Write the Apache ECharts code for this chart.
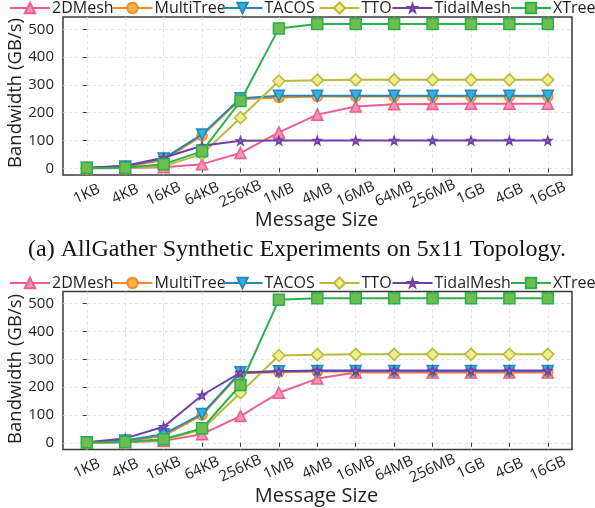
<!DOCTYPE html>
<html><head><meta charset="utf-8">
<script src="https://cdn.jsdelivr.net/npm/echarts@6/dist/echarts.min.js"></script>
<style>html,body{margin:0;padding:0;background:#fff}#c{width:595px;height:508px}</style>
</head><body><div id="c"></div>
<script>
// ---- data ----
const sizes = ['1KB','4KB','16KB','64KB','256KB','1MB','4MB','16MB','64MB','256MB','1GB','4GB','16GB'];
const yTicks = [0, 100, 200, 300, 400, 500];
const seriesNames = ['2DMesh','MultiTree','TACOS','TTO','TidalMesh','XTree'];

// (a) AllGather on 5x11
const a2DMesh    = [0.5, 1, 4, 15, 55, 129, 193, 222, 230, 231, 232, 232, 232];
const aMultiTree = [0.5, 5, 30, 117, 248, 255, 258, 258, 258, 258, 258, 258, 258];
const aTACOS     = [2, 7, 35, 122, 252, 261, 261, 261, 261, 261, 261, 261, 261];
const aTTO       = [0, 1, 8, 51, 182, 314, 317, 318, 318, 318, 318, 318, 318];
const aTidalMesh = [2, 9, 38, 81, 99, 100, 100, 100, 100, 100, 100, 100, 100];
const aXTree     = [1, 2, 15, 61, 242, 503, 519, 519, 519, 519, 519, 519, 519];

// second chart
const b2DMesh    = [0.5, 2, 7, 31, 96, 180, 231, 253, 253, 253, 253, 253, 253];
const bMultiTree = [0.5, 5, 25, 100, 250, 254, 256, 256, 256, 256, 256, 256, 256];
const bTACOS     = [2, 8, 31, 104, 254, 257, 258, 258, 258, 258, 258, 258, 258];
const bTTO       = [0, 2, 10, 48, 180, 314, 317, 318, 318, 318, 318, 318, 318];
const bTidalMesh = [2, 16, 58, 171, 252, 257, 260, 260, 260, 260, 260, 260, 260];
const bXTree     = [1, 3, 13, 52, 208, 514, 520, 520, 520, 520, 520, 520, 520];

const captionA = '(a) AllGather Synthetic Experiments on 5x11 Topology.';
const xTitle = 'Message Size';
const yTitle = 'Bandwidth (GB/s)';

// ---- styles ----
const STAR = 'path://M0,-10L2.35,-3.24L9.51,-3.09L3.8,1.24L5.88,8.09L0,4L-5.88,8.09L-3.8,1.24L-9.51,-3.09L-2.35,-3.24Z';
const sty = {
  '2DMesh':    {line:'#ee5c8d', fill:'#f592b5', symbol:'triangle', size:11, rot:0, lh:13},
  'MultiTree': {line:'#f28a26', fill:'#fbb347', symbol:'circle', size:10, rot:0, lh:13},
  'TACOS':     {line:'#2a87b5', fill:'#2ab3e4', symbol:'triangle', size:11, rot:180, lh:13},
  'TTO':       {line:'#b9b93a', fill:'#efee8c', symbol:'diamond', size:12, rot:0, lh:14},
  'TidalMesh': {line:'#6d3fa8', fill:'#9163cb', symbol:STAR, size:8, rot:0, lh:10},
  'XTree':     {line:'#2bb04b', fill:'#6dbd4f', symbol:'rect', size:11, rot:0, lh:13}
};
const FONT = 'Open Sans';
const TXT = '#1e1e1e';
const FRAME = '#3a3a3a';

const chartData = [
  [a2DMesh, aMultiTree, aTACOS, aTTO, aTidalMesh, aXTree],
  [b2DMesh, bMultiTree, bTACOS, bTTO, bTidalMesh, bXTree]
];
const gridTops = [17, 291.5];
const legendCenters = [8, 283];

const grids = [], xAxes = [], yAxes = [], series = [], legends = [];
const legendLefts = [9, 111.5, 221.5, 318.5, 391.5, 510];

gridTops.forEach((top, gi) => {
  grids.push({left:63, top:top, width:509, height:158, show:true, borderColor:FRAME, borderWidth:1.5,
              backgroundColor:'transparent', outerBoundsMode:'none', containLabel:false});
  xAxes.push({
    type:'value', gridIndex:gi, min:-0.62, max:12.63, minInterval:1, maxInterval:1,
    axisLine:{show:false},
    axisTick:{show:true, length:4, lineStyle:{color:FRAME, width:1}, customValues: sizes.map((s,i)=>i)},
    axisLabel:{customValues: sizes.map((s,i)=>i), rotate:25, align:'center', verticalAlign:'middle', margin:19,
      fontFamily:FONT, fontSize:15, color:TXT,
      formatter: v => (Number.isInteger(v) && sizes[v] !== undefined) ? sizes[v] : ''},
    splitLine:{show:true, lineStyle:{color:'#dcdcdc', type:[3,3], width:0.8}}
  });
  yAxes.push({
    type:'value', gridIndex:gi, min:-24, max:544, minInterval:100, maxInterval:100,
    axisLine:{show:false},
    axisTick:{show:true, length:4, lineStyle:{color:FRAME, width:1}, customValues: yTicks},
    axisLabel:{customValues: yTicks, margin:9, fontFamily:FONT, fontSize:15, color:TXT,
      formatter: v => (yTicks.indexOf(v) >= 0) ? String(v) : ''},
    splitLine:{show:true, lineStyle:{color:'#dcdcdc', type:[3,3], width:0.8}}
  });
  seriesNames.forEach((name, si) => {
    const s = sty[name];
    series.push({
      type:'line', name:name, xAxisIndex:gi, yAxisIndex:gi,
      data: chartData[gi][si].map((v,i)=>[i, v]),
      symbol:s.symbol, symbolSize:s.size, symbolRotate:s.rot, showAllSymbol:true,
      lineStyle:{color:s.line, width:2},
      itemStyle:{color:s.fill, borderColor:s.line, borderWidth:1.5},
      emphasis:{disabled:true}, animation:false, clip:false, z:2+si
    });
  });
  seriesNames.forEach((name, si) => {
    legends.push({
      data:[name], left:legendLefts[si], top:legendCenters[gi] - 8, padding:0,
      itemWidth:40, itemHeight:sty[name].lh, selectedMode:false,
      textStyle:{fontFamily:FONT, fontSize:16, color:TXT, padding:[0,0,0,-3]}
    });
  });
});

const graphics = [
  {type:'text', x:316.5, y:220, style:{text:xTitle, font:'20px "Open Sans"', fill:TXT, align:'center', verticalAlign:'middle'}},
  {type:'text', x:316.5, y:496, style:{text:xTitle, font:'20px "Open Sans"', fill:TXT, align:'center', verticalAlign:'middle'}},
  {type:'text', x:16, y:93, rotation:Math.PI/2, style:{text:yTitle, font:'18.5px "Open Sans"', fill:TXT, align:'center', verticalAlign:'middle'}},
  {type:'text', x:16, y:369, rotation:Math.PI/2, style:{text:yTitle, font:'18.5px "Open Sans"', fill:TXT, align:'center', verticalAlign:'middle'}},
  {type:'text', x:297, y:250, style:{text:captionA, font:'24px "Liberation Serif"', fill:'#111', align:'center', verticalAlign:'middle'}}
];

const chart = echarts.init(document.getElementById('c'), null, {renderer:'canvas'});
chart.setOption({
  animation:false,
  backgroundColor:'#ffffff',
  textStyle:{fontFamily:FONT},
  grid:grids, xAxis:xAxes, yAxis:yAxes, series:series, legend:legends, graphic:graphics
});
</script></body></html>
